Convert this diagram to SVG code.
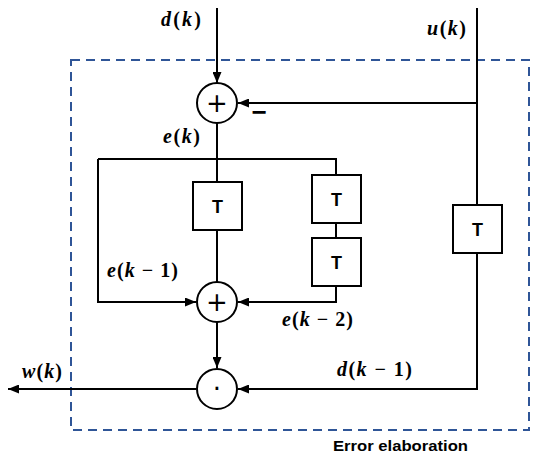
<svg xmlns="http://www.w3.org/2000/svg" width="550" height="466" viewBox="0 0 550 466">
  <defs>
    <marker id="arr" markerUnits="userSpaceOnUse" markerWidth="11" markerHeight="9" refX="11" refY="4.5" orient="auto">
      <path d="M0,0 L11,4.5 L0,9 z" fill="#000"/>
    </marker>
    <style>
      .ln { fill: none; stroke: #000; stroke-width: 2; }
      .nd { fill: #fff; stroke: #000; stroke-width: 2; }
      .op { font-family: "DejaVu Sans", "Liberation Sans", sans-serif; font-size: 26px; text-anchor: middle; fill: #000; }
      .tl { font-family: "Liberation Sans", Arial, sans-serif; font-weight: bold; font-size: 18px; text-anchor: middle; fill: #000; }
      .mv { font-family: "Liberation Serif", "DejaVu Serif", serif; font-weight: bold; font-size: 20px; fill: #000; }
      .mv tspan.i { font-style: italic; }
      .cap { font-family: "Liberation Sans", Arial, sans-serif; font-weight: bold; font-size: 15px; fill: #000; }
    </style>
  </defs>
  <rect width="550" height="466" fill="#fff"/>

  <!-- boundary -->
  <g id="error-elaboration">
    <rect x="71" y="60" width="458" height="370" fill="none" stroke="#2f5597" stroke-width="2" stroke-dasharray="9 6"/>
    <text class="cap" x="333" y="451" textLength="135" lengthAdjust="spacingAndGlyphs">Error elaboration</text>
  </g>

  <!-- connectors -->
  <g id="connectors">
    <path class="ln" d="M217,8 V83" marker-end="url(#arr)"/>
    <path class="ln" d="M477,8 V205"/>
    <path class="ln" d="M477,103 H238" marker-end="url(#arr)"/>
    <path class="ln" d="M477,253 V389 H238" marker-end="url(#arr)"/>
    <path class="ln" d="M217,123 V182"/>
    <path class="ln" d="M217,230 V282"/>
    <path class="ln" d="M98,159 H336 V175"/>
    <path class="ln" d="M336,223 V238"/>
    <path class="ln" d="M336,286 V302 H238" marker-end="url(#arr)"/>
    <path class="ln" d="M98,159 V302 H196" marker-end="url(#arr)"/>
    <path class="ln" d="M217,322 V368" marker-end="url(#arr)"/>
    <path class="ln" d="M196,389 H8" marker-end="url(#arr)"/>
  </g>

  <!-- nodes -->
  <g id="sum1">
    <circle class="nd" cx="217" cy="103" r="20"/>
    <text class="op" x="217" y="112">+</text>
  </g>
  <g id="sum2">
    <circle class="nd" cx="217" cy="302" r="20"/>
    <text class="op" x="217" y="311">+</text>
  </g>
  <g id="mult">
    <circle class="nd" cx="217" cy="389" r="20"/>
    <text class="op" x="217" y="398">·</text>
  </g>
  <g id="delay1">
    <rect class="nd" x="193" y="182" width="49" height="48"/>
    <text class="tl" x="217.5" y="213">T</text>
  </g>
  <g id="delay2">
    <rect class="nd" x="312" y="175" width="49" height="48"/>
    <text class="tl" x="336.5" y="206">T</text>
  </g>
  <g id="delay3">
    <rect class="nd" x="312" y="238" width="49" height="48"/>
    <text class="tl" x="336.5" y="269">T</text>
  </g>
  <g id="delay4">
    <rect class="nd" x="453" y="205" width="49" height="48"/>
    <text class="tl" x="477.5" y="236">T</text>
  </g>

  <!-- labels -->
  <g id="labels">
    <text class="mv" x="161" y="26" textLength="40"><tspan class="i">d</tspan>(<tspan class="i">k</tspan>)</text>
    <text class="mv" x="427" y="35" textLength="39"><tspan class="i">u</tspan>(<tspan class="i">k</tspan>)</text>
    <text class="mv" x="163" y="143" textLength="37"><tspan class="i">e</tspan>(<tspan class="i">k</tspan>)</text>
    <text class="mv" x="107" y="277" textLength="71"><tspan class="i">e</tspan>(<tspan class="i">k</tspan> − 1)</text>
    <text class="mv" x="282" y="326" textLength="71"><tspan class="i">e</tspan>(<tspan class="i">k</tspan> − 2)</text>
    <text class="mv" x="22" y="378" textLength="40"><tspan class="i">w</tspan>(<tspan class="i">k</tspan>)</text>
    <text class="mv" x="337" y="376" textLength="75"><tspan class="i">d</tspan>(<tspan class="i">k</tspan> − 1)</text>
    <text x="259" y="121" font-family="Liberation Sans, sans-serif" font-weight="bold" font-size="26" text-anchor="middle">−</text>
  </g>
</svg>
